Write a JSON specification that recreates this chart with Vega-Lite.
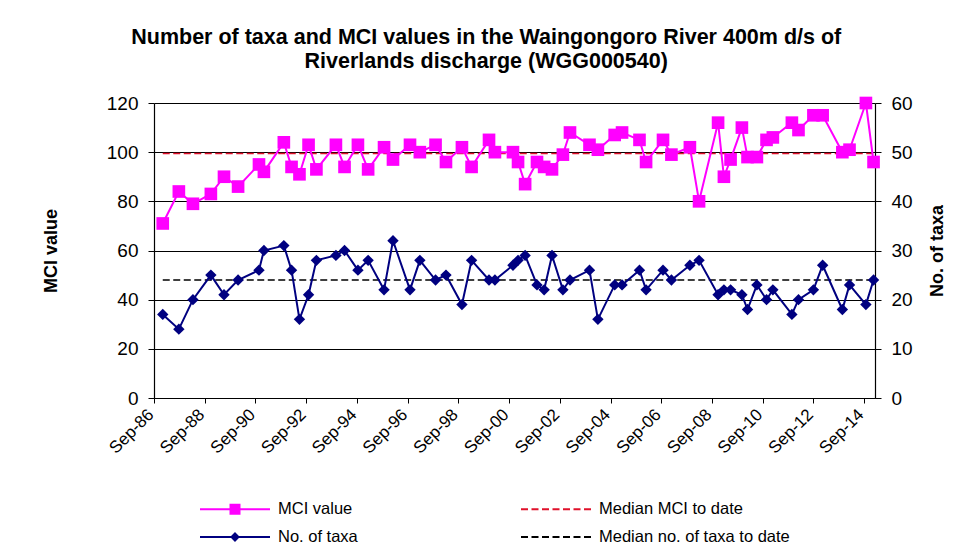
{
  "$schema": "https://vega.github.io/schema/vega-lite/v6.json",
  "width": 721,
  "height": 295,
  "autosize": {"type": "none"},
  "padding": {"left": 154, "top": 103, "right": 96, "bottom": 156},
  "background": "white",
  "config": {
    "font": "Liberation Sans",
    "view": {"stroke": null},
    "axis": {"labelColor": "black", "titleColor": "black", "domainColor": "black", "tickColor": "black", "domainWidth": 1.2}
  },
  "title": {
    "text": ["Number of taxa and MCI values in the Waingongoro River 400m d/s of", "Riverlands discharge (WGG000540)"],
    "fontSize": 21.5,
    "fontWeight": "bold",
    "color": "black",
    "anchor": "middle",
    "frame": "bounds",
    "offset": 22,
    "dx": -8,
    "lineHeight": 24
  },
  "datasets": {
    "obs": [
      {"date": "1987-01-05", "mci": 71, "taxa": 17},
      {"date": "1987-08-25", "mci": 84, "taxa": 14},
      {"date": "1988-03-15", "mci": 79, "taxa": 20},
      {"date": "1988-11-28", "mci": 83, "taxa": 25},
      {"date": "1989-06-05", "mci": 90, "taxa": 21},
      {"date": "1989-12-25", "mci": 86, "taxa": 24},
      {"date": "1990-10-22", "mci": 95, "taxa": 26},
      {"date": "1991-01-01", "mci": 92, "taxa": 30},
      {"date": "1991-10-15", "mci": 104, "taxa": 31},
      {"date": "1992-02-03", "mci": 94, "taxa": 26},
      {"date": "1992-05-27", "mci": 91, "taxa": 16},
      {"date": "1992-10-05", "mci": 103, "taxa": 21},
      {"date": "1993-01-26", "mci": 93, "taxa": 28},
      {"date": "1993-11-03", "mci": 103, "taxa": 29},
      {"date": "1994-03-07", "mci": 94, "taxa": 30},
      {"date": "1994-09-16", "mci": 103, "taxa": 26},
      {"date": "1995-02-10", "mci": 93, "taxa": 28},
      {"date": "1995-09-27", "mci": 102, "taxa": 22},
      {"date": "1996-02-03", "mci": 97, "taxa": 32},
      {"date": "1996-10-05", "mci": 103, "taxa": 22},
      {"date": "1997-02-24", "mci": 100, "taxa": 28},
      {"date": "1997-10-08", "mci": 103, "taxa": 24},
      {"date": "1998-03-07", "mci": 96, "taxa": 25},
      {"date": "1998-10-23", "mci": 102, "taxa": 19},
      {"date": "1999-03-11", "mci": 94, "taxa": 28},
      {"date": "1999-11-17", "mci": 105, "taxa": 24},
      {"date": "2000-02-10", "mci": 100, "taxa": 24},
      {"date": "2000-10-27", "mci": 100, "taxa": 27},
      {"date": "2001-01-08", "mci": 96, "taxa": 28},
      {"date": "2001-04-20", "mci": 87, "taxa": 29},
      {"date": "2001-10-08", "mci": 96, "taxa": 23},
      {"date": "2002-01-19", "mci": 94, "taxa": 22},
      {"date": "2002-05-12", "mci": 93, "taxa": 29},
      {"date": "2002-10-16", "mci": 99, "taxa": 22},
      {"date": "2003-01-26", "mci": 108, "taxa": 24},
      {"date": "2003-11-03", "mci": 103, "taxa": 26},
      {"date": "2004-03-03", "mci": 101, "taxa": 16},
      {"date": "2004-10-31", "mci": 107, "taxa": 23},
      {"date": "2005-02-14", "mci": 108, "taxa": 23},
      {"date": "2005-10-23", "mci": 105, "taxa": 26},
      {"date": "2006-01-26", "mci": 96, "taxa": 22},
      {"date": "2006-09-27", "mci": 105, "taxa": 26},
      {"date": "2007-01-26", "mci": 99, "taxa": 24},
      {"date": "2007-10-19", "mci": 102, "taxa": 27},
      {"date": "2008-02-28", "mci": 80, "taxa": 28},
      {"date": "2008-11-28", "mci": 112, "taxa": 21},
      {"date": "2009-02-20", "mci": 90, "taxa": 22},
      {"date": "2009-05-27", "mci": 97, "taxa": 22},
      {"date": "2009-11-06", "mci": 110, "taxa": 21},
      {"date": "2010-01-26", "mci": 98, "taxa": 18},
      {"date": "2010-06-10", "mci": 98, "taxa": 23},
      {"date": "2010-10-27", "mci": 105, "taxa": 20},
      {"date": "2011-01-26", "mci": 106, "taxa": 22},
      {"date": "2011-10-27", "mci": 112, "taxa": 17},
      {"date": "2012-01-30", "mci": 109, "taxa": 20},
      {"date": "2012-09-01", "mci": 115, "taxa": 22},
      {"date": "2013-01-12", "mci": 115, "taxa": 27},
      {"date": "2013-10-23", "mci": 100, "taxa": 18},
      {"date": "2014-02-03", "mci": 101, "taxa": 23},
      {"date": "2014-09-27", "mci": 120, "taxa": 19},
      {"date": "2015-01-15", "mci": 96, "taxa": 24}
    ],
    "medians": [
      {"date": "1987-01-05", "mci_med": 99.5, "taxa_med": 24},
      {"date": "2015-01-15", "mci_med": 99.5, "taxa_med": 24}
    ]
  },
  "encoding": {
    "x": {
      "field": "date",
      "type": "temporal",
      "scale": {"type": "utc", "domain": [{"year": 1986, "month": 9, "date": 1, "utc": true}, {"year": 2015, "month": 2, "date": 5, "utc": true}]},
      "axis": {
        "title": null,
        "values": [
          {"year": 1986, "month": 9, "date": 1, "utc": true},
          {"year": 1988, "month": 9, "date": 1, "utc": true},
          {"year": 1990, "month": 9, "date": 1, "utc": true},
          {"year": 1992, "month": 9, "date": 1, "utc": true},
          {"year": 1994, "month": 9, "date": 1, "utc": true},
          {"year": 1996, "month": 9, "date": 1, "utc": true},
          {"year": 1998, "month": 9, "date": 1, "utc": true},
          {"year": 2000, "month": 9, "date": 1, "utc": true},
          {"year": 2002, "month": 9, "date": 1, "utc": true},
          {"year": 2004, "month": 9, "date": 1, "utc": true},
          {"year": 2006, "month": 9, "date": 1, "utc": true},
          {"year": 2008, "month": 9, "date": 1, "utc": true},
          {"year": 2010, "month": 9, "date": 1, "utc": true},
          {"year": 2012, "month": 9, "date": 1, "utc": true},
          {"year": 2014, "month": 9, "date": 1, "utc": true}
        ],
        "format": "%b-%y",
        "labelAngle": -45,
        "labelFontSize": 17,
        "labelPadding": 3,
        "labelOffset": -9,
        "tickSize": 5,
        "grid": false,
        "labelOverlap": false
      }
    }
  },
  "layer": [
    {
      "encoding": {
        "y": {
          "type": "quantitative",
          "scale": {"domain": [0, 120], "nice": false},
          "axis": {
            "title": "MCI value",
            "titleFontSize": 18,
            "titleFontWeight": "bold",
            "titlePadding": 46,
            "values": [0, 20, 40, 60, 80, 100, 120],
            "grid": true,
            "gridColor": "black",
            "gridWidth": 1,
            "tickSize": 6,
            "labelFontSize": 19,
            "labelPadding": 10
          }
        }
      },
      "layer": [
        {
          "data": {"name": "medians"},
          "mark": {"type": "line", "strokeDash": [7, 3.5], "strokeWidth": 1.5},
          "encoding": {"y": {"field": "mci_med"}, "color": {"datum": "Median MCI to date"}}
        },
        {
          "data": {"name": "obs"},
          "mark": {"type": "line", "strokeWidth": 2},
          "encoding": {
            "y": {"field": "mci"},
            "color": {
              "datum": "MCI value",
              "scale": {
                "domain": ["MCI value", "No. of taxa", "Median MCI to date", "Median no. of taxa to date"],
                "range": ["#FF00FF", "#000080", "#E0102A", "#000000"]
              },
              "legend": {
                "title": null,
                "orient": "none",
                "legendX": 45,
                "legendY": 395,
                "columns": 2,
                "columnPadding": 159,
                "rowPadding": 8,
                "padding": 0,
                "symbolSize": 400,
                "symbolStrokeWidth": 2,
                "labelOffset": 57,
                "labelFontSize": 16.5,
                "labelColor": "black",
                "labelLimit": 300,
                "encode": {
                  "symbols": {
                    "update": {
                      "shape": {"signal": "datum.value === 'MCI value' ? 'M-1,0H6M2.05,-0.45H2.95V0.45H2.05Z' : (datum.value === 'No. of taxa' ? 'M-1,0H6M2.5,-0.35L2.85,0L2.5,0.35L2.15,0Z' : 'M-1,0H6.3')"},
                      "strokeDash": {"signal": "indexof(datum.value, 'Median') === 0 ? [7, 3.5] : []"},
                      "fill": {"signal": "indexof(datum.value, 'Median') === 0 ? 'transparent' : scale('color', datum.value)"},
                      "stroke": {"signal": "scale('color', datum.value)"},
                      "strokeWidth": {"value": 2},
                      "opacity": {"value": 1}
                    }
                  }
                }
              }
            }
          }
        },
        {
          "data": {"name": "obs"},
          "mark": {"type": "point", "shape": "square", "filled": true, "size": 160, "opacity": 1},
          "encoding": {"y": {"field": "mci"}, "color": {"datum": "MCI value"}}
        }
      ]
    },
    {
      "encoding": {
        "y": {
          "type": "quantitative",
          "scale": {"domain": [0, 60], "nice": false},
          "axis": {
            "orient": "right",
            "title": "No. of taxa",
            "titleAngle": -90,
            "titleFontSize": 18,
            "titleFontWeight": "bold",
            "titlePadding": 34,
            "values": [0, 10, 20, 30, 40, 50, 60],
            "grid": false,
            "tickSize": 6,
            "labelFontSize": 19,
            "labelPadding": 10
          }
        }
      },
      "layer": [
        {
          "data": {"name": "medians"},
          "mark": {"type": "line", "strokeDash": [7, 3.5], "strokeWidth": 1.5},
          "encoding": {"y": {"field": "taxa_med"}, "color": {"datum": "Median no. of taxa to date"}}
        },
        {
          "data": {"name": "obs"},
          "mark": {"type": "line", "strokeWidth": 2},
          "encoding": {"y": {"field": "taxa"}, "color": {"datum": "No. of taxa"}}
        },
        {
          "data": {"name": "obs"},
          "mark": {"type": "point", "shape": "diamond", "filled": true, "size": 130, "opacity": 1},
          "encoding": {"y": {"field": "taxa"}, "color": {"datum": "No. of taxa"}}
        }
      ]
    }
  ],
  "resolve": {"scale": {"y": "independent"}}
}
